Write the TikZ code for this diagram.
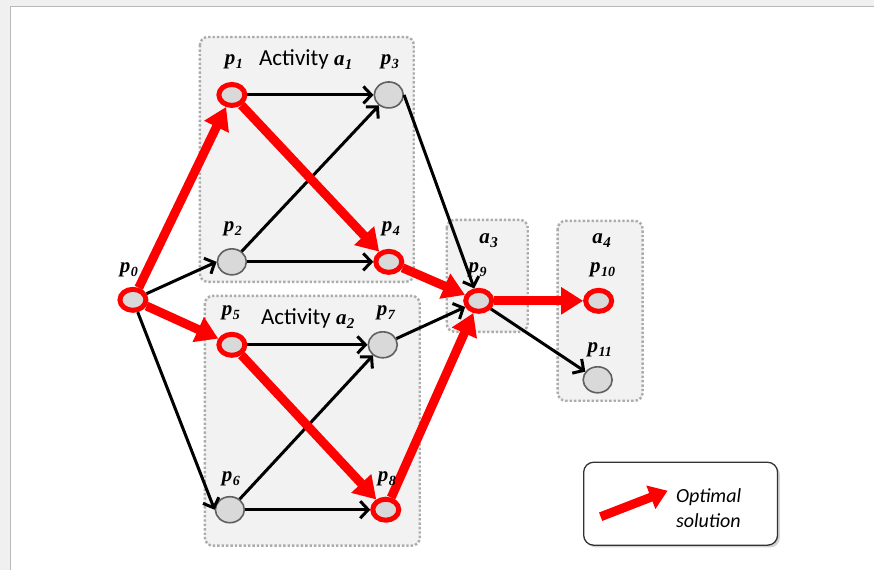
\documentclass[tikz,border=0pt]{standalone}
\usepackage{fontspec}
\setmainfont{Liberation Serif}
\newfontfamily\calfont{Carlito}
\usetikzlibrary{arrows.meta,shapes.geometric,shadows}

% labels of the places and activities
\newcommand{\pl}[1]{{\bfseries\itshape p\kern0.5pt\raisebox{-0.4ex}{\fontsize{14}{14}\selectfont #1}}}
\newcommand{\al}[1]{{\bfseries\itshape a\kern0.5pt\raisebox{-0.4ex}{\fontsize{15}{15}\selectfont #1}}}

\begin{document}
\begin{tikzpicture}[x=1pt,y=-1pt,
    place/.style={ellipse,inner sep=0pt,fill=gray!30},
    plain/.style={place,minimum width=29pt,minimum height=26pt,draw=gray!75!black,line width=1.6pt},
    best/.style={place,minimum width=26pt,minimum height=21pt,draw=red,line width=5pt},
    lab/.style={font=\fontsize{21}{21}\selectfont,inner sep=0pt},
    actbox/.style={draw=gray!65,fill=gray!10,line width=2.4pt,dotted,rounded corners=8pt},
    edge/.style={line width=3pt,-{Straight Barb[length=8pt,width=17pt]}},
    opt/.style={red,line width=9pt,-{Triangle[length=22pt,width=26pt]}},
    legend/.style={draw=black!80,line width=1.3pt,fill=white,rounded corners=10pt,
      minimum width=194pt,minimum height=83pt,drop shadow={opacity=0.35}}]
  % frame
  \fill[gray!12] (0,0) rectangle (874,570);
  \fill[white] (11,7) rectangle (874,570);
  \draw[gray!55,line width=1pt] (11,570) -- (11,7) -- (874,7);
  \useasboundingbox (0,0) rectangle (874,570);

  % activity boxes
  \draw[actbox] (200,37) rectangle (414,282);
  \draw[actbox] (205,296) rectangle (420,546);
  \draw[actbox] (447,220) rectangle (528,332);
  \draw[actbox] (558,221) rectangle (643,401);

  \node[lab] (t1) at (306,60) {{\calfont\fontsize{23}{23}\selectfont Activity} \al{1}};
  \node[lab] (t2) at (308,319) {{\calfont\fontsize{23}{23}\selectfont Activity} \al{2}};
  \node[lab] (t3) at (489,241) {\al{3}};
  \node[lab] (t4) at (602,241) {\al{4}};

  % places
  \node[best]  (p0) at (133,300) {};
  \node[best]  (p1) at (232,95) {};
  \node[plain] (p2) at (232,262) {};
  \node[plain] (p3) at (389,95) {};
  \node[best]  (p4) at (389,262) {};
  \node[best]  (p5) at (232,345) {};
  \node[plain] (p6) at (230,510) {};
  \node[plain] (p7) at (383,345) {};
  \node[best]  (p8) at (386,510) {};
  \node[best]  (p9) at (479,301) {};
  \node[best]  (p10) at (599,301) {};
  \node[plain] (p11) at (598,380) {};

  % ordinary edges
  \draw[edge] (p0) -- (p2.west);
  \draw[edge] (p0) -- (p6.west);
  \draw[edge] (p1) -- (p3);
  \draw[edge] (p2) -- (p3);
  \draw[edge] (p2) -- (p4);
  \draw[edge] (p5) -- (p7);
  \draw[edge] (p6) -- (p7);
  \draw[edge] (p6) -- (p8);
  \draw[edge] (p3.east) -- (p9);
  \draw[edge] (p7) -- (p9);
  \draw[edge] (p9) -- (p11);

  % optimal path
  \draw[opt] (p0) -- (p1);
  \draw[opt] (p1) -- (p4);
  \draw[opt] (p4) -- (p9);
  \draw[opt] (p0) -- (p5);
  \draw[opt] (p5) -- (p8);
  \draw[opt] (p8) -- (p9);
  \draw[opt] (p9) -- (p10);

  % place labels
  \node[lab] at (129,270) {\pl{0}};
  \node[lab] at (234,62) {\pl{1}};
  \node[lab] at (233,229) {\pl{2}};
  \node[lab] at (390,62) {\pl{3}};
  \node[lab] at (391,229) {\pl{4}};
  \node[lab] at (231,313) {\pl{5}};
  \node[lab] at (231,479) {\pl{6}};
  \node[lab] at (386,313) {\pl{7}};
  \node[lab] at (387,479) {\pl{8}};
  \node[lab] at (478,270) {\pl{9}};
  \node[lab] at (603,270) {\pl{10}};
  \node[lab] at (600,350) {\pl{11}};

  % legend
  \node[legend] (leg) at (681,504) {};
  \coordinate (ls) at (601,517);
  \coordinate (le) at (668,491);
  \draw[opt,-{Triangle[length=18pt,width=24pt]}] (ls) -- (le);
  \node[font=\calfont\itshape\fontsize{20}{25}\selectfont,align=left] (lt) at (709,508) {Optimal\\solution};
\end{tikzpicture}
\end{document}
